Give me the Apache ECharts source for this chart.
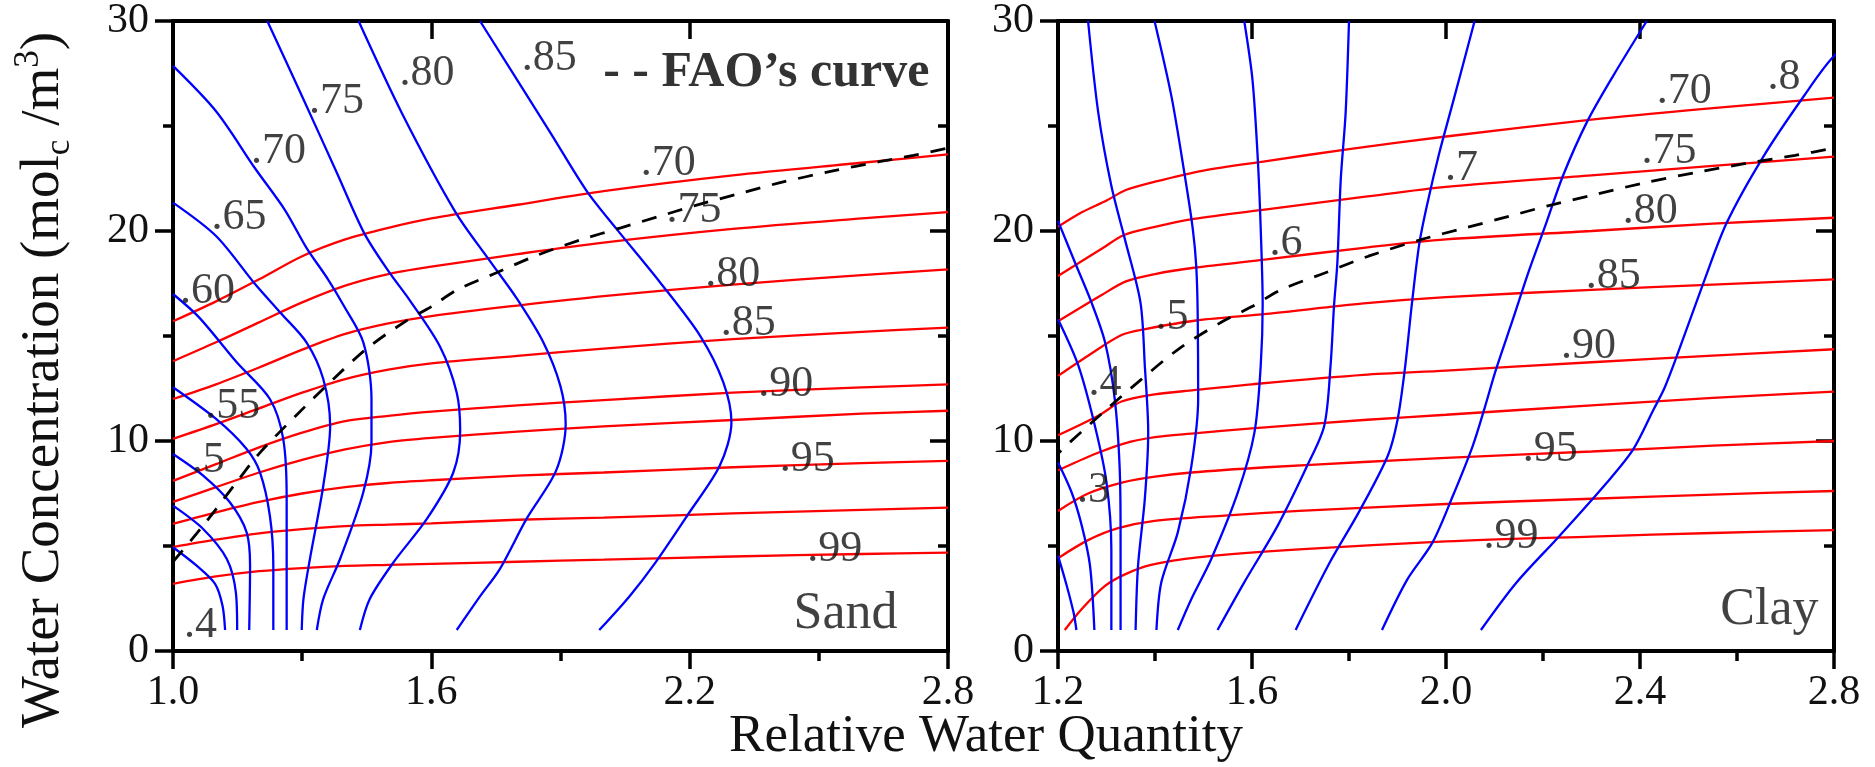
<!DOCTYPE html>
<html><head><meta charset="utf-8">
<script src="https://cdn.jsdelivr.net/npm/echarts@6/dist/echarts.min.js"></script>
<style>html,body{margin:0;padding:0;background:#fff;}#c{width:1875px;height:767px;}</style>
</head><body><div id="c"></div>
<script>
// ---------- tick values ----------
const sandXMajor = [1.0, 1.6, 2.2, 2.8];
const sandXMinor = [1.3, 1.9, 2.5];
const clayXMajor = [1.2, 1.6, 2.0, 2.4, 2.8];
const clayXMinor = [1.4, 1.8, 2.2, 2.6];
const yMajor = [0, 10, 20, 30];
const yMinor = [5, 15, 25];

// ---------- Sand: red iso-lines (.70 .75 .80 .85 .90 - .95 - .99) ----------
const sandRed = [
 [[1.0,15.7],[1.1,16.65],[1.2,17.7],[1.3,18.8],[1.4,19.6],[1.5,20.15],[1.6,20.6],[1.8,21.25],[2.0,21.9],[2.3,22.65],[2.6,23.25],[2.8,23.65]],
 [[1.0,13.8],[1.1,14.7],[1.2,15.65],[1.3,16.6],[1.4,17.4],[1.5,17.95],[1.6,18.3],[1.8,18.9],[2.0,19.45],[2.3,20.1],[2.6,20.6],[2.8,20.9]],
 [[1.0,12.0],[1.1,12.7],[1.2,13.5],[1.3,14.35],[1.4,15.1],[1.5,15.6],[1.6,15.95],[1.8,16.45],[2.0,16.9],[2.3,17.45],[2.6,17.9],[2.8,18.17]],
 [[1.0,10.1],[1.1,10.8],[1.2,11.55],[1.3,12.3],[1.4,12.95],[1.5,13.4],[1.6,13.7],[1.8,14.05],[2.0,14.4],[2.3,14.85],[2.6,15.2],[2.8,15.4]],
 [[1.0,8.1],[1.1,8.9],[1.2,9.7],[1.3,10.4],[1.4,10.95],[1.5,11.2],[1.6,11.4],[1.8,11.7],[2.0,11.95],[2.3,12.3],[2.6,12.55],[2.8,12.7]],
 [[1.0,7.1],[1.1,7.8],[1.2,8.5],[1.3,9.1],[1.4,9.6],[1.5,9.95],[1.6,10.15],[1.8,10.45],[2.0,10.7],[2.3,11.0],[2.6,11.3],[2.8,11.44]],
 [[1.0,6.05],[1.1,6.6],[1.2,7.1],[1.3,7.5],[1.4,7.8],[1.5,8.0],[1.6,8.13],[1.8,8.35],[2.0,8.5],[2.3,8.75],[2.6,8.95],[2.8,9.05]],
 [[1.0,4.95],[1.1,5.3],[1.2,5.6],[1.3,5.8],[1.4,5.95],[1.5,6.02],[1.6,6.08],[1.8,6.25],[2.0,6.35],[2.3,6.55],[2.6,6.72],[2.8,6.83]],
 [[1.0,3.2],[1.1,3.55],[1.2,3.8],[1.3,3.95],[1.4,4.05],[1.5,4.1],[1.6,4.15],[1.8,4.25],[2.0,4.35],[2.3,4.5],[2.6,4.62],[2.8,4.68]]
];

// ---------- Sand: blue iso-lines (.4 .45 .5 .55 .60 .65 .70 .75 .80 .85) ----------
const sandBlue = [
 [[1.0,4.94],[1.055,4.06],[1.098,3.19],[1.115,2.16],[1.121,1.0]],
 [[1.0,6.92],[1.07,5.81],[1.125,4.38],[1.146,2.79],[1.149,1.0]],
 [[1.0,9.38],[1.07,8.35],[1.132,7.08],[1.171,5.65],[1.179,4.06],[1.177,1.0]],
 [[1.0,12.56],[1.1,11.05],[1.171,9.62],[1.202,8.51],[1.225,6.44],[1.233,4.06],[1.233,1.0]],
 [[1.0,17.0],[1.06,15.9],[1.148,13.75],[1.225,12.0],[1.256,10.1],[1.264,7.24],[1.264,1.0]],
 [[1.0,21.35],[1.1,19.76],[1.188,17.54],[1.25,16.1],[1.31,14.7],[1.349,12.95],[1.365,10.73],[1.349,7.87],[1.318,4.38],[1.303,2.48],[1.299,1.0]],
 [[1.0,27.86],[1.1,25.7],[1.19,23.0],[1.26,21.0],[1.31,19.2],[1.36,17.7],[1.395,16.5],[1.442,14.7],[1.461,12.0],[1.461,9.94],[1.442,7.56],[1.388,4.38],[1.349,2.48],[1.334,1.0]],
 [[1.219,30],[1.3,26.4],[1.38,22.8],[1.444,19.9],[1.5,18.1],[1.55,16.7],[1.62,14.5],[1.659,12.3],[1.667,10.5],[1.651,8.5],[1.59,6.3],[1.512,4.22],[1.457,2.48],[1.434,1.0]],
 [[1.431,30],[1.532,25.6],[1.656,20.9],[1.735,18.6],[1.798,16.8],[1.86,14.7],[1.9,12.6],[1.912,10.8],[1.89,8.6],[1.821,6.29],[1.759,3.9],[1.713,2.6],[1.659,1.0]],
 [[1.713,30],[1.876,24.7],[1.961,21.9],[2.03,20.1],[2.131,17.56],[2.224,15.02],[2.278,12.8],[2.297,10.89],[2.27,8.83],[2.196,6.5],[2.12,4.2],[2.06,2.6],[1.99,1.0]]
];

// ---------- Clay: red iso-lines ----------
const clayRed = [
 [[1.2,20.2],[1.25,20.9],[1.3,21.45],[1.34,21.95],[1.4,22.35],[1.5,22.88],[1.63,23.33],[1.8,23.9],[2.0,24.5],[2.3,25.3],[2.55,25.85],[2.8,26.35]],
 [[1.2,17.86],[1.29,19.15],[1.335,19.8],[1.4,20.2],[1.48,20.58],[1.63,21.03],[1.83,21.62],[2.0,22.1],[2.3,22.65],[2.55,23.1],[2.8,23.54]],
 [[1.2,15.7],[1.29,16.95],[1.34,17.6],[1.4,17.95],[1.48,18.25],[1.63,18.65],[1.83,19.2],[2.0,19.6],[2.3,20.0],[2.55,20.35],[2.8,20.63]],
 [[1.2,13.1],[1.262,14.06],[1.331,15.05],[1.38,15.33],[1.488,15.75],[1.63,16.05],[1.83,16.55],[2.0,16.85],[2.3,17.2],[2.55,17.45],[2.8,17.7]],
 [[1.2,10.27],[1.283,11.2],[1.331,11.88],[1.399,12.22],[1.48,12.42],[1.6,12.7],[1.83,13.15],[2.0,13.35],[2.3,13.75],[2.55,14.07],[2.8,14.37]],
 [[1.2,8.6],[1.276,9.38],[1.336,9.88],[1.4,10.18],[1.475,10.35],[1.6,10.6],[1.83,11.0],[2.0,11.25],[2.3,11.7],[2.55,12.05],[2.8,12.35]],
 [[1.2,6.67],[1.262,7.5],[1.334,8.03],[1.4,8.3],[1.475,8.5],[1.63,8.75],[1.83,9.0],[2.0,9.2],[2.3,9.5],[2.55,9.78],[2.8,10.0]],
 [[1.2,4.42],[1.262,5.28],[1.324,5.85],[1.399,6.2],[1.543,6.45],[1.697,6.67],[2.0,7.0],[2.3,7.25],[2.55,7.45],[2.8,7.62]],
 [[1.214,1.0],[1.249,2.0],[1.297,3.1],[1.338,3.65],[1.392,4.1],[1.488,4.46],[1.697,4.84],[2.0,5.22],[2.3,5.45],[2.55,5.62],[2.8,5.76]]
];

// ---------- Clay: blue iso-lines (.3 ... .8) ----------
const clayBlue = [
 [[1.2,4.54],[1.218,3.11],[1.232,1.84],[1.238,1.0]],
 [[1.2,8.98],[1.228,7.56],[1.249,5.97],[1.266,4.06],[1.275,1.0]],
 [[1.2,15.8],[1.242,13.59],[1.276,10.73],[1.3,8.03],[1.31,4.86],[1.31,1.0]],
 [[1.2,20.48],[1.235,18.5],[1.269,16.6],[1.297,14.7],[1.317,12.0],[1.327,8.8],[1.329,5.65],[1.329,1.0]],
 [[1.262,30],[1.283,25.64],[1.31,22.15],[1.338,19.6],[1.37,16.6],[1.379,13.59],[1.386,10.41],[1.379,7.24],[1.365,4.06],[1.36,1.0]],
 [[1.399,30],[1.434,26.4],[1.461,22.7],[1.478,20.08],[1.485,18.34],[1.488,16.1],[1.489,12.0],[1.475,8.8],[1.447,5.65],[1.413,3.27],[1.403,1.0]],
 [[1.584,30],[1.601,27.2],[1.612,23.4],[1.618,20.08],[1.622,16.5],[1.618,13.6],[1.605,10.4],[1.571,7.56],[1.516,4.38],[1.475,2.48],[1.447,1.0]],
 [[1.8,30],[1.793,25.6],[1.783,22.46],[1.776,18.5],[1.769,16.4],[1.762,13.6],[1.749,10.73],[1.714,8.83],[1.653,5.97],[1.584,3.27],[1.529,1.0]],
 [[2.059,30],[2.014,26.1],[1.986,23.7],[1.962,21.35],[1.945,19.4],[1.93,16.6],[1.915,13.4],[1.9,11.0],[1.88,9.3],[1.82,6.6],[1.76,4.2],[1.69,1.0]],
 [[2.414,30],[2.345,27.4],[2.29,25.16],[2.241,22.62],[2.207,20.4],[2.172,18.17],[2.138,15.8],[2.103,13.4],[2.08,11.6],[2.055,9.76],[2.014,7.38],[1.972,5.16],[1.92,3.4],[1.868,1.0]],
 [[2.85,29.1],[2.8,28.33],[2.738,26.43],[2.655,23.57],[2.579,20.4],[2.531,17.54],[2.476,14.05],[2.45,12.5],[2.428,11.5],[2.386,9.6],[2.331,8.0],[2.234,5.48],[2.145,3.25],[2.072,1.0]]
];

// ---------- FAO's curve (same in both panels) ----------
const faoCurve = [[1.0,4.25],[1.07,5.97],[1.15,8.1],[1.2,9.4],[1.29,11.3],[1.37,12.9],[1.45,14.4],[1.54,15.7],[1.6,16.4],[1.66,17.2],[1.75,18.0],[1.84,18.8],[1.95,19.6],[2.04,20.15],[2.13,20.7],[2.21,21.2],[2.31,21.75],[2.41,22.3],[2.53,22.85],[2.64,23.3],[2.72,23.6],[2.8,23.95]];

// ---------- contour labels [text, x, y] ----------
const sandLabels = [
 ['.4',1.064,1.2],['.5',1.082,9.06],['.55',1.139,11.65],['.60',1.08,17.14],['.65',1.153,20.63],
 ['.70',1.245,23.8],['.75',1.38,26.16],['.80',1.59,27.5],['.85',1.874,28.2],
 ['.70',2.15,23.2],['.75',2.21,21.0],['.80',2.3,17.94],['.85',2.336,15.6],['.90',2.423,12.7],['.95',2.473,9.13],['.99',2.537,4.84]
];
const clayLabels = [
 ['.3',1.273,7.63],['.4',1.297,12.75],['.5',1.435,15.9],['.6',1.67,19.4],['.7',2.032,23.0],['.8',2.697,27.3],
 ['.70',2.491,26.63],['.75',2.46,23.81],['.80',2.421,20.92],['.85',2.345,17.86],['.90',2.294,14.49],['.95',2.215,9.6],['.99',2.134,5.44]
];
const panelNames = [['Sand',2.684,1.75],['Clay',2.769,1.95]];
const legendText = ['- - FAO\u2019s curve', 2.758, 27.5];

// ---------- chart ----------
const FONT = 'Liberation Serif';
const TXT = '#111';
const chart = echarts.init(document.getElementById('c'), null, {renderer:'canvas'});

function xAxes(grid, min, max, major, minor) {
  const base = {type:'value', gridIndex:grid, min, max, splitLine:{show:false}};
  return [
    Object.assign({}, base, {position:'bottom',
      axisLine:{show:true, onZero:false, lineStyle:{color:'#000', width:4}},
      axisTick:{show:true, inside:false, length:18, customValues:major, lineStyle:{color:'#000', width:3.5}},
      axisLabel:{show:true, customValues:major, formatter:v=>Number(v).toFixed(1), fontFamily:FONT, fontSize:42, color:TXT, margin:21}}),
    Object.assign({}, base, {position:'bottom',
      axisLine:{show:false}, axisTick:{show:true, inside:false, length:10, customValues:minor, lineStyle:{color:'#000', width:3.5}},
      axisLabel:{show:false}}),
    Object.assign({}, base, {position:'top',
      axisLine:{show:true, onZero:false, lineStyle:{color:'#000', width:4}},
      axisTick:{show:true, inside:true, length:18, customValues:major, lineStyle:{color:'#000', width:3.5}},
      axisLabel:{show:false}}),
    Object.assign({}, base, {position:'top',
      axisLine:{show:false}, axisTick:{show:true, inside:true, length:10, customValues:minor, lineStyle:{color:'#000', width:3.5}},
      axisLabel:{show:false}})
  ];
}
function yAxes(grid) {
  const base = {type:'value', gridIndex:grid, min:0, max:30, splitLine:{show:false}};
  return [
    Object.assign({}, base, {position:'left',
      axisLine:{show:true, onZero:false, lineStyle:{color:'#000', width:4}},
      axisTick:{show:true, inside:false, length:18, customValues:yMajor, lineStyle:{color:'#000', width:3.5}},
      axisLabel:{show:true, customValues:yMajor, fontFamily:FONT, fontSize:42, color:TXT, margin:24}}),
    Object.assign({}, base, {position:'left',
      axisLine:{show:false}, axisTick:{show:true, inside:false, length:10, customValues:yMinor, lineStyle:{color:'#000', width:3.5}},
      axisLabel:{show:false}}),
    Object.assign({}, base, {position:'right',
      axisLine:{show:true, onZero:false, lineStyle:{color:'#000', width:4}},
      axisTick:{show:true, inside:true, length:18, customValues:yMajor, lineStyle:{color:'#000', width:3.5}},
      axisLabel:{show:false}}),
    Object.assign({}, base, {position:'right',
      axisLine:{show:false}, axisTick:{show:true, inside:true, length:10, customValues:yMinor, lineStyle:{color:'#000', width:3.5}},
      axisLabel:{show:false}})
  ];
}

function lines(curves, color, grid, width, type) {
  return curves.map(c => ({type:'line', xAxisIndex:grid*4, yAxisIndex:grid*4, data:c,
    symbol:'none', showSymbol:false, smooth:0.3, clip:true, silent:true,
    lineStyle:{color, width, type: type || 'solid'}, z:2}));
}
function textSeries(items, grid, opts) {
  return {type:'scatter', xAxisIndex:grid*4, yAxisIndex:grid*4, silent:true, z:5,
    symbolSize:1, itemStyle:{color:'rgba(0,0,0,0)'},
    data: items.map(t => ({name:t[0], value:[t[1], t[2]]})),
    label: Object.assign({show:true, position:'inside', formatter:p=>p.name,
      fontFamily:FONT, fontSize:44, color:TXT}, opts || {})};
}

const series = [].concat(
  lines(sandRed, '#ff0000', 0, 2.3),
  lines(sandBlue, '#0000ff', 0, 2.3),
  lines([faoCurve], '#000', 0, 2.8, [15, 12]),
  lines(clayRed, '#ff0000', 1, 2.3),
  lines(clayBlue, '#0000ff', 1, 2.3),
  lines([faoCurve], '#000', 1, 2.8, [15, 12]),
  [textSeries(sandLabels, 0), textSeries(clayLabels, 1),
   textSeries([panelNames[0]], 0, {position:'left', distance:0, fontSize:52}),
   textSeries([panelNames[1]], 1, {position:'left', distance:0, fontSize:52}),
   textSeries([legendText], 0, {position:'left', distance:0, fontSize:50, fontWeight:'bold', color:'#000'})]
);

chart.setOption({
  animation:false,
  backgroundColor:'#fff',
  title:{text:'Relative Water Quantity', left:981, top:706, textAlign:'center',
    textStyle:{fontFamily:FONT, fontSize:53, fontWeight:'normal', color:TXT}},
  graphic:[{type:'text', x:44, y:380, rotation:Math.PI/2, silent:true,
    style:{text:'{a|Water Concentration (mol}{s|c}{a| /m}{p|3}{a|)}', align:'center', verticalAlign:'middle',
      fill:TXT, fontFamily:FONT, fontSize:55,
      rich:{
        a:{fontFamily:FONT, fontSize:55, lineHeight:66, fill:TXT, verticalAlign:'middle'},
        s:{fontFamily:FONT, fontSize:35, lineHeight:35, fill:TXT, verticalAlign:'bottom'},
        p:{fontFamily:FONT, fontSize:35, lineHeight:35, fill:TXT, verticalAlign:'top'}}}}],
  grid:[
    {left:173, top:20, width:775, height:631, containLabel:false},
    {left:1058, top:20, width:776, height:631, containLabel:false}
  ],
  xAxis: [].concat(xAxes(0, 1.0, 2.8, sandXMajor, sandXMinor), xAxes(1, 1.2, 2.8, clayXMajor, clayXMinor)),
  yAxis: [].concat(yAxes(0), yAxes(1)),
  series
});
</script></body></html>
